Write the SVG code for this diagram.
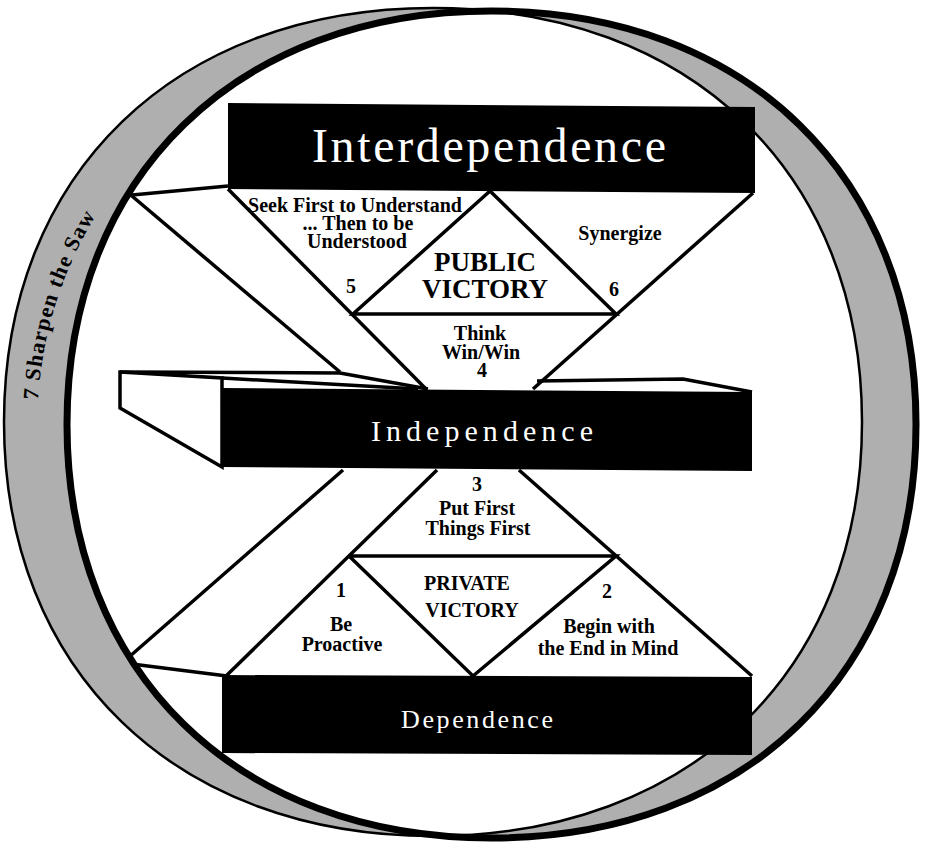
<svg xmlns="http://www.w3.org/2000/svg" width="926" height="846" viewBox="0 0 926 846">
<defs>
<style>
.bar{fill:#000}
.bt{font-family:"Liberation Serif",serif;fill:#fff;text-anchor:middle}
.lb{font-family:"Liberation Serif",serif;font-weight:bold;font-size:20px;fill:#000;text-anchor:middle}
.vc{font-size:27px}
.saw{font-family:"Liberation Serif",serif;font-weight:bold;font-size:22px;fill:#000}
.ln{fill:none;stroke:#000;stroke-width:3.5;stroke-linejoin:miter}
</style>
<path id="ringA" d="M916,424.5 C916,672.6 746.2,838 491.5,838 C236.8,838 67,672.6 67,424.5 C67,176.4 236.8,11 491.5,11 C746.2,11 916,176.4 916,424.5Z"/>
<path id="ringB" d="M862,422 C862,670.4 690.4,836 433,836 C175.6,836 4,670.4 4,422 C4,173.6 175.6,8 433,8 C690.4,8 862,173.6 862,422Z"/>
<path id="sawPath" d="M38,400 A425,410 0 0 1 462,13"/>
<clipPath id="clipB"><use href="#ringB"/></clipPath>
<clipPath id="clipA"><use href="#ringA"/></clipPath>
</defs>
<rect width="926" height="846" fill="#fff"/>
<g id="ring-sharpen-the-saw">
<use href="#ringB" fill="#afafaf"/>
<use href="#ringA" fill="#afafaf"/>
<use href="#ringA" fill="#fff" clip-path="url(#clipB)"/>
</g>
<g id="connectors" clip-path="url(#clipA)">
<polyline class="ln" points="100,198 228,186"/>
<polyline class="ln" points="100,169 340,372"/>
<polyline class="ln" points="228,189 426,389"/>
<polyline class="ln" points="753,193 533,389"/>
<polyline class="ln" points="490,191 353,314 616,314 490,191"/>
<polyline class="ln" points="437,470 226,676"/>
<polyline class="ln" points="519,470 752,676"/>
<polyline class="ln" points="349,556 616,556 473,676 349,556"/>
<polyline class="ln" points="343,470 97,685"/>
<polyline class="ln" points="100,660 227,676"/>
<polygon class="ln" fill="#fff" points="120,372 222,378 222,467 120,408"/>
<polyline class="ln" points="120,372 340,373 428,389"/>
<polyline class="ln" points="222,378 418,389"/>
<polyline class="ln" points="537,381 683,379 752,392"/>
</g>
<g id="ring-edges">
<use href="#ringB" fill="none" stroke="#000" stroke-width="2.5"/>
<use href="#ringA" fill="none" stroke="#000" stroke-width="7"/>
<text class="saw"><textPath href="#sawPath" textLength="195" lengthAdjust="spacing">7 Sharpen the Saw</textPath></text>
</g>
<g id="interdependence">
<polygon class="bar" points="228,103 755,107 755,193 228,189"/>
<text class="bt" x="489" y="162" font-size="48" textLength="354" lengthAdjust="spacing">Interdependence</text>
</g>
<g id="independence">
<polygon class="bar" points="222,388 752,392 752,471 222,467"/>
<text class="bt" x="482" y="441" font-size="30" textLength="222" lengthAdjust="spacing">Independence</text>
</g>
<g id="dependence">
<polygon class="bar" points="222,675 752,677 752,755 222,753"/>
<text class="bt" x="477" y="728" font-size="26" textLength="152" lengthAdjust="spacing">Dependence</text>
</g>
<g id="habit5">
<text class="lb" x="355" y="212">Seek First to Understand</text>
<text class="lb" x="358" y="230">... Then to be</text>
<text class="lb" x="357" y="248">Understood</text>
<text class="lb" x="351" y="293">5</text>
</g>
<g id="public-victory">
<text class="lb vc" x="485" y="271">PUBLIC</text>
<text class="lb vc" x="485" y="298">VICTORY</text>
</g>
<g id="habit6">
<text class="lb" x="620" y="240">Synergize</text>
<text class="lb" x="614" y="296">6</text>
</g>
<g id="habit4">
<text class="lb" x="480" y="340">Think</text>
<text class="lb" x="481" y="359">Win/Win</text>
<text class="lb" x="482" y="377">4</text>
</g>
<g id="habit3">
<text class="lb" x="477" y="491">3</text>
<text class="lb" x="477" y="515">Put First</text>
<text class="lb" x="478" y="535">Things First</text>
</g>
<g id="private-victory">
<text class="lb" x="467" y="590" font-size="26">PRIVATE</text>
<text class="lb" x="472" y="617" font-size="26">VICTORY</text>
</g>
<g id="habit1">
<text class="lb" x="341" y="597">1</text>
<text class="lb" x="341" y="631">Be</text>
<text class="lb" x="342" y="651">Proactive</text>
</g>
<g id="habit2">
<text class="lb" x="607" y="598">2</text>
<text class="lb" x="609" y="633">Begin with</text>
<text class="lb" x="608" y="655">the End in Mind</text>
</g>
</svg>
